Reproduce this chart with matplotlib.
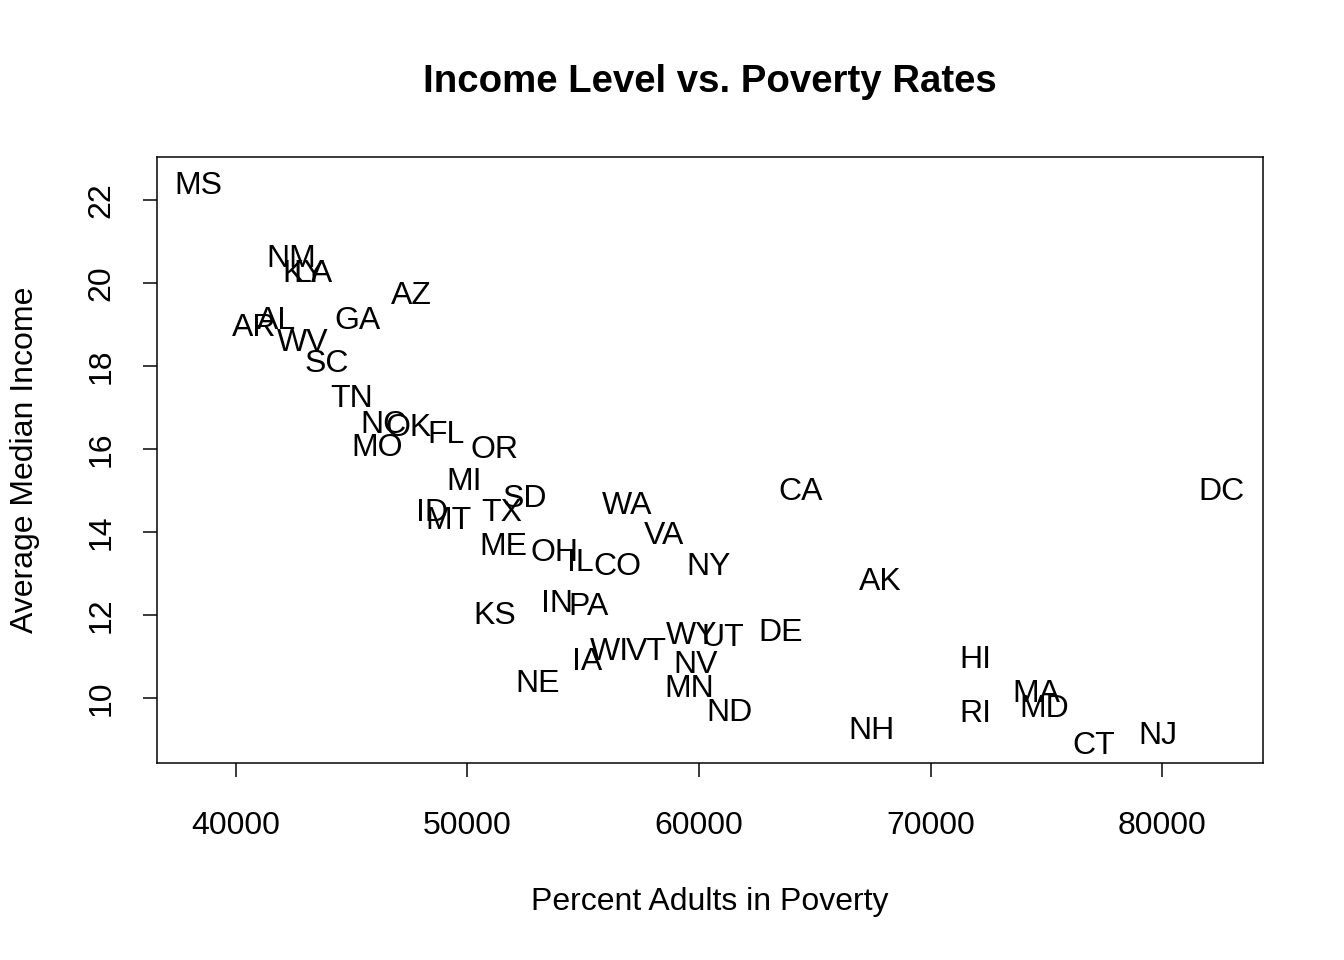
import matplotlib
matplotlib.use("Agg")
import matplotlib.pyplot as plt

plt.rcParams['font.family'] = ['Liberation Sans', 'DejaVu Sans']

states = ["MS", "NM", "KY", "LA", "AZ", "AR", "AL", "GA", "WV", "SC",
          "TN", "NC", "OK", "FL", "MO", "OR", "MI", "SD", "ID", "MT",
          "TX", "WA", "CA", "DC", "VA", "ME", "OH", "IL", "CO", "NY",
          "AK", "IN", "PA", "KS", "WY", "UT", "DE", "WI", "VT", "IA",
          "NV", "HI", "NE", "MN", "MA", "MD", "RI", "ND", "NH", "NJ", "CT"]
income = [38360, 42380, 42940, 43330, 47560, 40780, 41770, 45230, 42890, 43930,
          45010, 46390, 47470, 49070, 46090, 51150, 49850, 52480, 48470, 49200,
          51490, 56890, 64410, 82550, 58490, 51530, 53740, 54860, 56460, 60430,
          67820, 53870, 55250, 51190, 59700, 61040, 63540, 56110, 57710, 55160,
          59870, 71920, 53050, 59570, 74560, 74900, 71920, 61300, 67430, 79830, 77060]
poverty = [22.43, 20.67, 20.29, 20.29, 19.78, 19.01, 19.16, 19.16, 18.63, 18.14,
           17.28, 16.67, 16.58, 16.41, 16.10, 16.07, 15.28, 14.89, 14.55, 14.36,
           14.55, 14.72, 15.04, 15.06, 14.00, 13.73, 13.57, 13.33, 13.23, 13.25,
           12.89, 12.36, 12.27, 12.07, 11.59, 11.54, 11.64, 11.20, 11.20, 10.96,
           10.87, 11.01, 10.43, 10.31, 10.19, 9.83, 9.69, 9.73, 9.30, 9.16, 8.92]

fig = plt.figure(figsize=(1344 / 144, 960 / 144), dpi=144)
ax = fig.add_axes([157 / 1344, 1 - 763 / 960, (1263 - 157) / 1344, (763 - 157) / 960])

for s, x, y in zip(states, income, poverty):
    ax.text(x, y, s, ha="center", va="center_baseline", fontsize=16)

ax.set_xlim(36590, 84360)
ax.set_ylim(8.434, 23.036)
ax.set_xticks([40000, 50000, 60000, 70000, 80000])
ax.set_yticks([10, 12, 14, 16, 18, 20, 22])
ax.tick_params(axis="both", direction="out", length=7.2, width=0.75, labelsize=16)
ax.tick_params(axis="x", pad=17)
ax.tick_params(axis="y", pad=13)
for lab in ax.get_yticklabels():
    lab.set_rotation(90)
    lab.set_va("center")
for sp in ax.spines.values():
    sp.set_linewidth(0.75)

fig.text(710 / 1344, 1 - 82 / 960, "Income Level vs. Poverty Rates",
         ha="center", va="center", fontsize=19.2, fontweight="bold")
fig.text(710 / 1344, 1 - 902 / 960, "Percent Adults in Poverty",
         ha="center", va="center", fontsize=16)
fig.text(25 / 1344, 1 - 460 / 960, "Average Median Income",
         ha="center", va="center", fontsize=16, rotation=90)

fig.savefig("out.png", dpi=144)
